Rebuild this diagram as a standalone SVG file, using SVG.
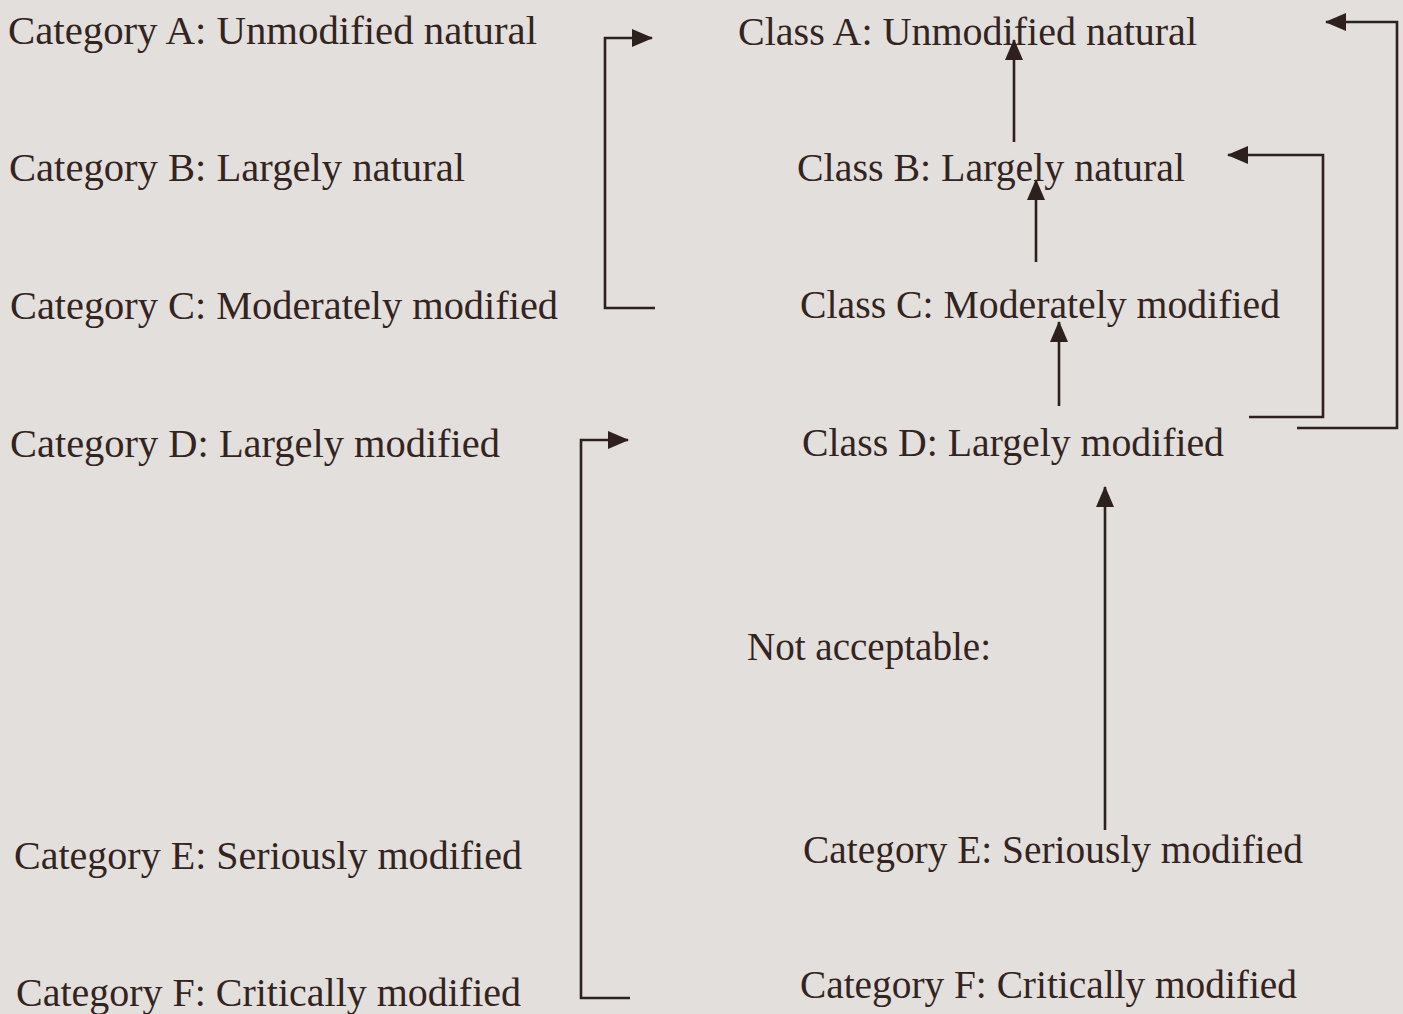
<svg xmlns="http://www.w3.org/2000/svg" width="1403" height="1014" viewBox="0 0 1403 1014">
<style>
text{font-family:"Liberation Serif","Times New Roman",serif;font-size:39px;fill:#33241f}
.c path{fill:none;stroke:#2e201c;stroke-width:2.6}
</style>
<defs>
<marker id="ah" viewBox="0 0 21 18" refX="20" refY="9" markerWidth="21" markerHeight="18" markerUnits="userSpaceOnUse" orient="auto">
<path d="M0,0 L21,9 L0,18 Z" fill="#2e201c"/>
</marker>
</defs>
<rect width="1403" height="1014" fill="#e3dfdc"/>
<g id="cat-a"><text x="8" y="44" textLength="529" lengthAdjust="spacingAndGlyphs">Category A: Unmodified natural</text></g>
<g id="cat-b"><text x="9" y="181" textLength="456" lengthAdjust="spacingAndGlyphs">Category B: Largely natural</text></g>
<g id="cat-c"><text x="10" y="319" textLength="548" lengthAdjust="spacingAndGlyphs">Category C: Moderately modified</text></g>
<g id="cat-d"><text x="10" y="457" textLength="490" lengthAdjust="spacingAndGlyphs">Category D: Largely modified</text></g>
<g id="cat-e"><text x="14" y="869" textLength="508" lengthAdjust="spacingAndGlyphs">Category E: Seriously modified</text></g>
<g id="cat-f"><text x="16" y="1006" textLength="505" lengthAdjust="spacingAndGlyphs">Category F: Critically modified</text></g>
<g id="class-a"><text x="738" y="45" textLength="459" lengthAdjust="spacingAndGlyphs">Class A: Unmodified natural</text></g>
<g id="class-b"><text x="797" y="181" textLength="388" lengthAdjust="spacingAndGlyphs">Class B: Largely natural</text></g>
<g id="class-c"><text x="800" y="318" textLength="480" lengthAdjust="spacingAndGlyphs">Class C: Moderately modified</text></g>
<g id="class-d"><text x="802" y="456" textLength="422" lengthAdjust="spacingAndGlyphs">Class D: Largely modified</text></g>
<g id="not-acceptable"><text x="747" y="660" textLength="244" lengthAdjust="spacingAndGlyphs">Not acceptable:</text></g>
<g id="r-cat-e"><text x="803" y="863" textLength="500" lengthAdjust="spacingAndGlyphs">Category E: Seriously modified</text></g>
<g id="r-cat-f"><text x="800" y="998" textLength="497" lengthAdjust="spacingAndGlyphs">Category F: Critically modified</text></g>
<g class="c" id="connectors">
<path d="M655,308 H605 V38 H652" marker-end="url(#ah)"/>
<path d="M630,998 H581 V440 H628" marker-end="url(#ah)"/>
<path d="M1014,142 V40" marker-end="url(#ah)"/>
<path d="M1036,262 V180" marker-end="url(#ah)"/>
<path d="M1059,406 V322" marker-end="url(#ah)"/>
<path d="M1105,830 V487" marker-end="url(#ah)"/>
<path d="M1249,417 H1323 V155 H1228" marker-end="url(#ah)"/>
<path d="M1297,428 H1397 V22 H1326" marker-end="url(#ah)"/>
</g>
</svg>
